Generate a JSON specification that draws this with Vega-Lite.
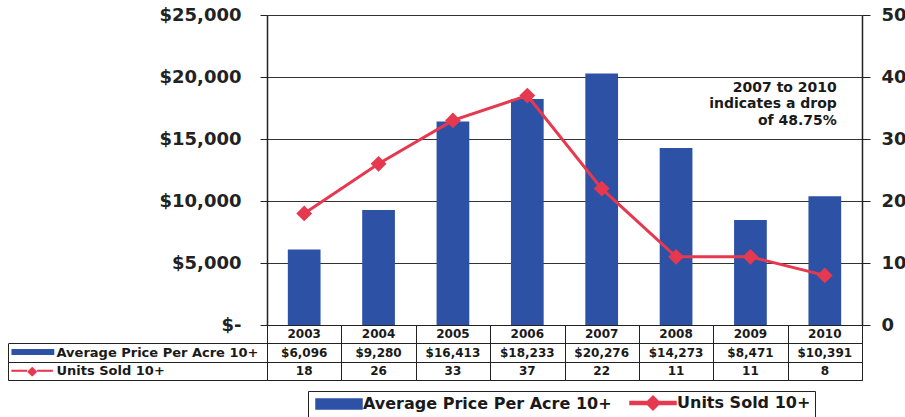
{
  "$schema": "https://vega.github.io/schema/vega-lite/v6.json",
  "padding": {"left": 7, "top": 6, "right": 0, "bottom": 0},
  "autosize": {"type": "pad"},
  "bounds": "flush",
  "spacing": 0,
  "config": {"view": {"stroke": null}, "font": "DejaVu Sans"},
  "data": {"values": [
    {"year": "2003", "price": 6096, "units": 18},
    {"year": "2004", "price": 9280, "units": 26},
    {"year": "2005", "price": 16413, "units": 33},
    {"year": "2006", "price": 18233, "units": 37},
    {"year": "2007", "price": 20276, "units": 22},
    {"year": "2008", "price": 14273, "units": 11},
    {"year": "2009", "price": 8471, "units": 11},
    {"year": "2010", "price": 10391, "units": 8}
  ]},
  "vconcat": [
    {
      "width": 595,
      "height": 310,
      "encoding": {
        "x": {"field": "year", "type": "ordinal", "axis": null,
              "scale": {"paddingInner": 0.56, "paddingOuter": 0.28}}
      },
      "layer": [
        {
          "layer": [
            {
              "mark": {"type": "bar", "color": "#2c51a5"},
              "encoding": {
                "y": {"field": "price", "type": "quantitative",
                      "scale": {"domain": [0, 25000], "nice": false},
                      "axis": {"orient": "left", "title": null,
                               "values": [0, 5000, 10000, 15000, 20000, 25000],
                               "grid": true, "gridColor": "#333", "gridWidth": 1,
                               "domainColor": "#222", "domainWidth": 1.5,
                               "tickColor": "#222", "tickSize": 7, "tickWidth": 1,
                               "labelPadding": 19, "labelFontWeight": "bold",
                               "labelFontSize": 18, "labelColor": "#222",
                               "labelExpr": "datum.value === 0 ? '$-' : format(datum.value, '$,d')"}},
                "color": {"datum": "Average Price Per Acre 10+",
                          "scale": {"domain": ["Average Price Per Acre 10+", "Units Sold 10+"],
                                    "range": ["#2c51a5", "#e63950"]},
                          "legend": {
                            "orient": "none", "legendX": 41, "legendY": 376,
                            "direction": "horizontal", "title": null,
                            "strokeColor": "#222", "padding": 4,
                            "labelFontWeight": "bold", "labelFontSize": 16,
                            "labelColor": "#1a1a1a", "labelLimit": 400,
                            "symbolSize": 100, "symbolOffset": 19,
                            "labelOffset": 16, "columnPadding": 14,
                            "encode": {"symbols": {"update": {
                              "shape": {"signal": "datum.value == 'Units Sold 10+' ? 'M-4.6,-0.3H-1.1L0,-1.4L1.1,-0.3H4.6V0.3H1.1L0,1.4L-1.1,0.3H-4.6Z' : 'M-4.6,-1H4.6V1H-4.6Z'"},
                              "fill": {"signal": "datum.value == 'Units Sold 10+' ? '#e63950' : '#2c51a5'"},
                              "stroke": {"value": "transparent"}
                            }}}
                          }}
              }
            },
            {
              "data": {"values": [{}]},
              "mark": {"type": "text", "text": ["2007 to 2010", "indicates a drop", "of 48.75%"],
                       "align": "right", "baseline": "top", "dx": 12, "lineHeight": 16.5,
                       "fontSize": 14, "fontWeight": "bold", "color": "#1a1a1a"},
              "encoding": {
                "x": {"datum": "2010", "type": "ordinal"},
                "y": {"datum": 19700, "type": "quantitative"}
              }
            }
          ]
        },
        {
          "layer": [
            {
              "mark": {"type": "line", "strokeWidth": 3},
              "encoding": {
                "y": {"field": "units", "type": "quantitative",
                      "scale": {"domain": [0, 50], "nice": false},
                      "axis": {"orient": "right", "title": null,
                               "values": [0, 5, 10, 15, 20, 25, 30, 35, 40, 45, 50],
                               "grid": false, "domainColor": "#222", "domainWidth": 1.5,
                               "tickColor": "#222", "tickSize": 8,
                               "labelPadding": 11, "labelFontWeight": "bold",
                               "labelFontSize": 18, "labelColor": "#222"}},
                "color": {"datum": "Units Sold 10+"}
              }
            },
            {
              "mark": {"type": "point", "shape": "diamond", "filled": true, "size": 250, "opacity": 1},
              "encoding": {
                "y": {"field": "units", "type": "quantitative"},
                "color": {"datum": "Units Sold 10+"}
              }
            }
          ]
        }
      ],
      "resolve": {"scale": {"y": "independent"}}
    },
    {
      "width": 595,
      "height": 55,
      "view": {"stroke": "#222"},
      "encoding": {
        "x": {"field": "year", "type": "ordinal",
              "scale": {"paddingInner": 0, "paddingOuter": 0},
              "axis": {"orient": "bottom", "title": null, "labels": false, "ticks": false,
                       "domain": false, "grid": true, "tickBand": "extent",
                       "gridColor": "#222", "gridWidth": 1}}
      },
      "layer": [
        {
          "layer": [
            {
              "mark": {"type": "text", "fontSize": 12, "fontWeight": "bold", "color": "#1a1a1a"},
              "encoding": {
                "y": {"datum": "Year", "type": "ordinal",
                      "scale": {"domain": ["Year", "Average Price Per Acre 10+", "Units Sold 10+"],
                                "paddingInner": 0, "paddingOuter": 0},
                      "axis": {"orient": "left", "title": null, "grid": true, "tickBand": "extent",
                               "values": ["Average Price Per Acre 10+", "Units Sold 10+"],
                               "gridColor": "#222", "domainColor": "#222",
                               "ticks": true, "tickSize": 259, "tickColor": "#222",
                               "labelAlign": "left", "labelBaseline": "middle", "labelPadding": -48,
                               "labelFontWeight": "bold", "labelFontSize": 13,
                               "labelColor": "#1a1a1a", "labelLimit": 0}},
                "text": {"field": "year"}
              }
            },
            {
              "mark": {"type": "text", "fontSize": 12, "fontWeight": "bold", "color": "#1a1a1a"},
              "encoding": {
                "y": {"datum": "Average Price Per Acre 10+", "type": "ordinal"},
                "text": {"field": "price", "type": "quantitative", "format": "$,d"}
              }
            },
            {
              "mark": {"type": "text", "fontSize": 12, "fontWeight": "bold", "color": "#1a1a1a"},
              "encoding": {
                "y": {"datum": "Units Sold 10+", "type": "ordinal"},
                "text": {"field": "units", "type": "quantitative"}
              }
            }
          ]
        },
        {
          "mark": {"type": "text", "text": ""},
          "encoding": {
            "y": {"datum": "Units Sold 10+", "type": "ordinal",
                  "axis": {"orient": "left", "title": null, "offset": 259,
                           "values": ["Average Price Per Acre 10+", "Units Sold 10+"],
                           "grid": false, "ticks": false,
                           "domain": true, "domainColor": "#222", "domainDash": [0, 18.33, 40],
                           "labelExpr": "datum.value === 'Units Sold 10+' ? '━━◆━━' : '━━'",
                           "labelAlign": "left", "labelBaseline": "middle", "labelPadding": -3,
                           "labelFontSize": {"condition": {"test": "datum.value === 'Units Sold 10+'", "value": 13}, "value": 35},
                           "labelFontWeight": {"condition": {"test": "datum.value === 'Units Sold 10+'", "value": "normal"}, "value": "bold"},
                           "labelColor": {"condition": {"test": "datum.value === 'Units Sold 10+'", "value": "#e63950"}, "value": "#2c51a5"},
                           "labelLimit": 0}}
          }
        }
      ],
      "resolve": {"axis": {"y": "independent"}}
    }
  ]
}
